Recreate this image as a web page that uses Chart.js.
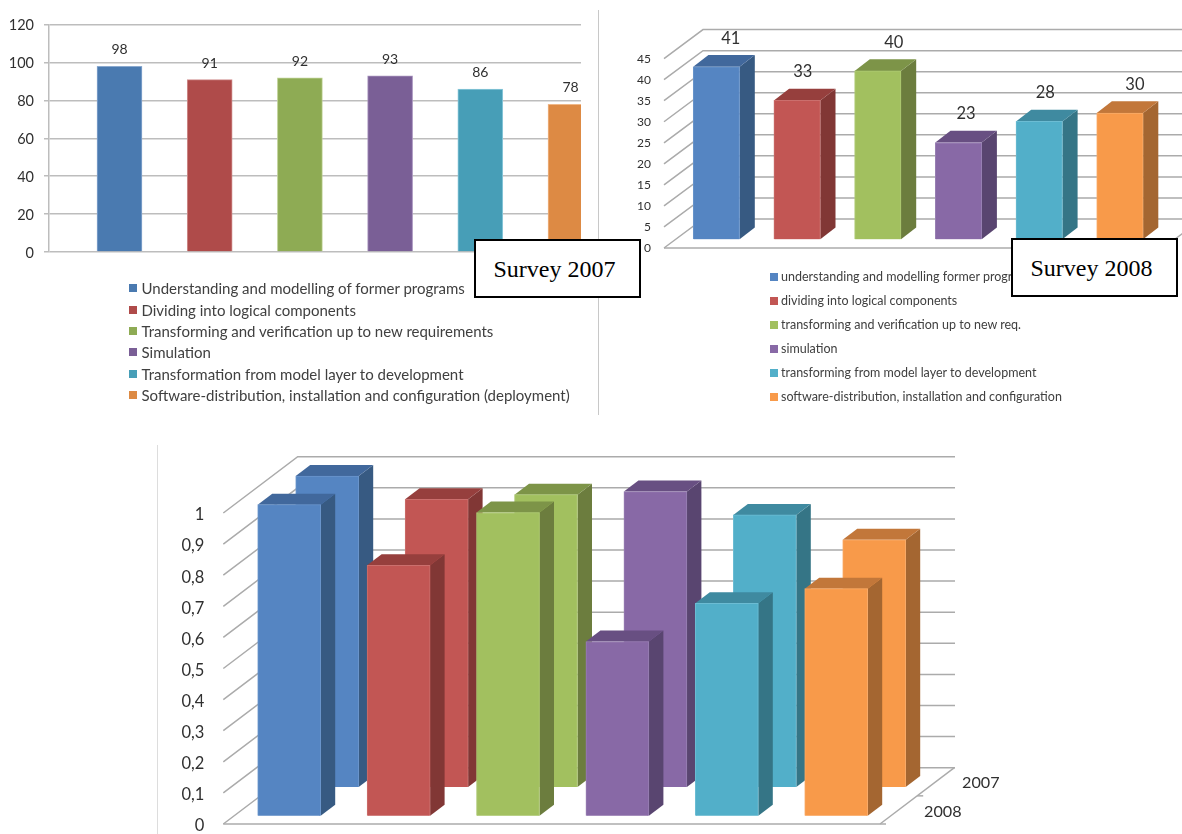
<!DOCTYPE html>
<html><head><meta charset="utf-8">
<script src="https://cdn.jsdelivr.net/npm/chart.js@4"></script>
<style>
html,body{margin:0;padding:0;background:#fff;width:1182px;height:834px;overflow:hidden}
canvas{position:absolute;left:0;top:0}
.rule{position:absolute;background:#c8c8c8}
.legend{position:absolute;font-family:Lato,sans-serif;color:#404040;white-space:nowrap}
.legend div{position:absolute;left:0;height:0;line-height:0}
.legend i{position:absolute;left:0;display:block}
.legend span{position:absolute;top:0}
.box{position:absolute;box-sizing:border-box;border:2px solid #000;background:#fff;font:24px "Liberation Serif",serif;color:#000;text-align:center;padding-right:6px;z-index:5}
</style></head><body>
<div class="rule" style="left:598px;top:10px;width:1px;height:405px"></div>
<div class="rule" style="left:157px;top:445px;width:1px;height:389px;background:#ddd"></div>
<canvas id="c2007" width="1182" height="900"></canvas>
<canvas id="c2008" width="1182" height="900"></canvas>
<canvas id="cBoth" width="1182" height="900"></canvas>
<div id="leg2007" class="legend" style="left:129px;top:0;font-size:15px"></div>
<div id="leg2008" class="legend" style="left:770px;top:0;font-size:12.5px"></div>
<div class="box" style="left:474px;top:239px;width:167px;height:59px;line-height:57px">Survey 2007</div>
<div class="box" style="left:1011px;top:238px;width:167px;height:59px;line-height:57px">Survey 2008</div>
<script>
const categories2007 = ["Understanding and modelling of former programs","Dividing into logical components","Transforming and verification up to new requirements","Simulation","Transformation from model layer to development","Software-distribution, installation and configuration (deployment)"];
const categories2008 = ["understanding and modelling former programs","dividing into logical components","transforming and verification up to new req.","simulation","transforming from model layer to development","software-distribution, installation and configuration"];
const values2007 = [98,91,92,93,86,78];
const values2008 = [41,33,40,23,28,30];
const seriesNames = ["2008","2007"];
const share2008 = [1,0.805,0.975,0.56,0.683,0.73];
const share2007 = [1,0.925,0.94,0.95,0.875,0.795];

const flat2007 = ["#4a7ab0","#af4b4a","#8eab54","#7a5f96","#479eb7","#dd8a44"];
const flatEdge = ["#8aa9cf","#cf8d8c","#bdd092","#a793bd","#8ccadb","#f0b888"];
const front = ["#5585c2","#c25654","#a2c05f","#8869a6","#52afc9","#f89a4a"];
const side = ["#375a82","#813735","#6c7d3e","#594570","#357586","#a46631"];
const top3d = ["#41689c","#963f3d","#7d9448","#684f82","#3f8aa0","#c2773a"];
const edge3d = ["#6a95cb","#cb6f6d","#afca75","#9880b3","#6cbcd3","#f9ab68"];
const GRID = "#ababab", TEXT = "#303030", FONT = "Lato, sans-serif";

function pts(vals){ return vals.map((v,i)=>({x:i,y:v})); }
function area(L,T,R,B,yw){ return {left:L-yw,top:T,right:1182-R,bottom:900-B}; }

function legend(id,labels,colors,rows,textX,boxSize){
  const host=document.getElementById(id);
  labels.forEach((t,i)=>{
    const r=document.createElement('div'); r.style.top=rows[i]+'px';
    r.innerHTML='<i style="width:'+boxSize+'px;height:'+boxSize+'px;top:'+(-boxSize/2)+'px;background:'+colors[i]+'"></i><span style="left:'+textX+'px">'+t+'</span>';
    host.appendChild(r);
  });
}
legend('leg2007',categories2007,flat2007,[288,309.5,331,352,374,395],12.5,8);
legend('leg2008',categories2008,front,[277,301,325,349,373,397],11,8);

function valueLabels(cfg){
  return {id:'valueLabels',
    beforeDatasetsDraw(chart){
      if(!cfg.mask) return;
      const c=chart.ctx, m=chart.getDatasetMeta(0); c.save(); c.fillStyle='#fff';
      m.data.forEach((b,i)=>{ c.fillRect(b.x+cfg.nudge[i]-15.5, b.y+cfg.dy+cfg.plane-11, 31, 22); });
      c.restore();
    },
    afterDatasetsDraw(chart){
      const c=chart.ctx, m=chart.getDatasetMeta(0), vals=chart.data.datasets[0].data;
      c.save(); c.font=cfg.font; c.fillStyle=TEXT; c.textAlign='center'; c.textBaseline='middle';
      m.data.forEach((b,i)=>c.fillText(String(vals[i].y), b.x+cfg.nudge[i], b.y+cfg.dy+cfg.plane));
      c.restore();
    }};
}

function wall3d(cfg){
  return {id:'wall3d',
    beforeDatasetsDraw(chart){
      const c=chart.ctx, y=chart.scales.y, a=chart.chartArea;
      c.save(); c.strokeStyle=GRID; c.lineWidth=1.5;
      y.ticks.forEach(t=>{
        const p=y.getPixelForValue(t.value);
        c.beginPath(); c.moveTo(a.left,p); c.lineTo(a.left+cfg.dx,p+cfg.dy); c.lineTo(cfg.backRight,p+cfg.dy); c.stroke();
      });
      const p0=y.getPixelForValue(0);
      c.beginPath(); c.moveTo(a.left,p0); c.lineTo(cfg.floorRight+6,p0); c.stroke();
      c.beginPath(); c.moveTo(cfg.floorRight,p0); c.lineTo(cfg.floorRight+cfg.dx,p0+cfg.dy); c.stroke();
      if(cfg.midTick){ const f=0.5, mx=cfg.floorRight+cfg.dx*f, my=p0+cfg.dy*f;
        c.beginPath(); c.moveTo(mx,my); c.lineTo(mx+6,my); c.stroke(); }
      c.restore();
    },
    beforeDatasetDraw(chart,args){
      const off=cfg.rows[args.index], c=chart.ctx;
      c.save(); c.translate(off[0],off[1]);
      args.meta.data.forEach((b,i)=>{
        const l=b.x-b.width/2, r=b.x+b.width/2, t=b.y, B=b.base;
        c.fillStyle=side[i]; c.beginPath(); c.moveTo(r,t); c.lineTo(r+cfg.depthX,t+cfg.depthY); c.lineTo(r+cfg.depthX,B+cfg.depthY); c.lineTo(r,B); c.closePath(); c.fill();
        c.fillStyle=top3d[i]; c.beginPath(); c.moveTo(l,t); c.lineTo(l+cfg.depthX,t+cfg.depthY); c.lineTo(r+cfg.depthX,t+cfg.depthY); c.lineTo(r,t); c.closePath(); c.fill();
      });
    },
    afterDatasetDraw(chart){ chart.ctx.restore(); },
    afterDraw(chart){
      if(!cfg.rowLabels) return;
      const c=chart.ctx; c.save(); c.font=cfg.rowFont; c.fillStyle=TEXT; c.textBaseline='middle';
      cfg.rowLabels.forEach((s,i)=>c.fillText(seriesNames[i],s[0],s[1]));
      c.restore();
    }};
}

function baseOptions(L,T,R,B,yw,xs,yOpts){
  return {responsive:false,animation:false,maintainAspectRatio:false,devicePixelRatio:1,
    layout:{padding:area(L,T,R,B,yw)},
    plugins:{legend:{display:false},tooltip:{enabled:false},title:{display:false}},
    scales:{x:{type:'linear',display:false,offset:false,min:(L-xs[0])/xs[1],max:(R-xs[0])/xs[1]},
      y:Object.assign({afterFit(s){s.width=yw;}},yOpts)}};
}

/* Survey 2007 */
new Chart(document.getElementById('c2007'),{type:'bar',
  data:{labels:categories2007,datasets:[{label:'Survey 2007',data:pts(values2007),backgroundColor:flat2007,borderColor:flatEdge,borderWidth:1,barThickness:45,grouped:false}]},
  options:baseOptions(49,24.7,581,252,49,[119.5,90.2],{min:0,max:120,
    ticks:{stepSize:20,padding:10,labelOffset:1,color:TEXT,font:{family:FONT,size:14.5}},
    grid:{color:'#bdbdbd',lineWidth:1.5,tickLength:5},border:{color:'#bdbdbd',width:1.5}}),
  plugins:[valueLabels({nudge:[0,0,0,0,0,0],dy:-16.5,plane:0,font:'14px '+FONT,mask:false})]});

/* Survey 2008 */
new Chart(document.getElementById('c2008'),{type:'bar',
  data:{labels:categories2008,datasets:[{label:'Survey 2008',data:pts(values2008),backgroundColor:front,borderColor:edge3d,borderWidth:1,barThickness:46.4,grouped:false,clip:false}]},
  options:baseOptions(664,58.6,1182,248,64,[716.4,80.7],{min:0,max:45,
    ticks:{stepSize:5,padding:13,labelOffset:0.5,color:TEXT,font:{family:FONT,size:12}},
    grid:{display:false,drawTicks:false},border:{display:false}}),
  plugins:[valueLabels({nudge:[14.3,5.6,16,7.5,6,15],dy:-28.5,plane:-8.7,font:'16.5px '+FONT,mask:true}),
    wall3d({dx:39,dy:-29,backRight:1210,floorRight:1163,depthX:15.2,depthY:-11.7,rows:[[0,-8.7]]})]});

/* Both surveys, normalised */
new Chart(document.getElementById('cBoth'),{type:'bar',
  data:{labels:categories2008,datasets:[
    {label:seriesNames[0],data:pts(share2008),backgroundColor:front,borderColor:edge3d,borderWidth:1,barThickness:63,grouped:false,clip:false},
    {label:seriesNames[1],data:pts(share2007),backgroundColor:front,borderColor:edge3d,borderWidth:1,barThickness:63,grouped:false,clip:false}]},
  options:baseOptions(223.3,513,955,824,100,[289.2,109.4],{min:0,max:1,
    ticks:{stepSize:0.1,padding:19,labelOffset:2,color:TEXT,font:{family:FONT,size:16.5},callback:v=>String(+v.toFixed(1)).replace('.',',')},
    grid:{display:false,drawTicks:false},border:{display:false}}),
  plugins:[wall3d({dx:74.4,dy:-56.3,backRight:955,floorRight:880,depthX:14.5,depthY:-11,midTick:true,
    rows:[[0,-8.3],[38,-37]],rowFont:'16.2px '+FONT,rowLabels:[[924,812],[962,783]]})]});
</script>
</body></html>
